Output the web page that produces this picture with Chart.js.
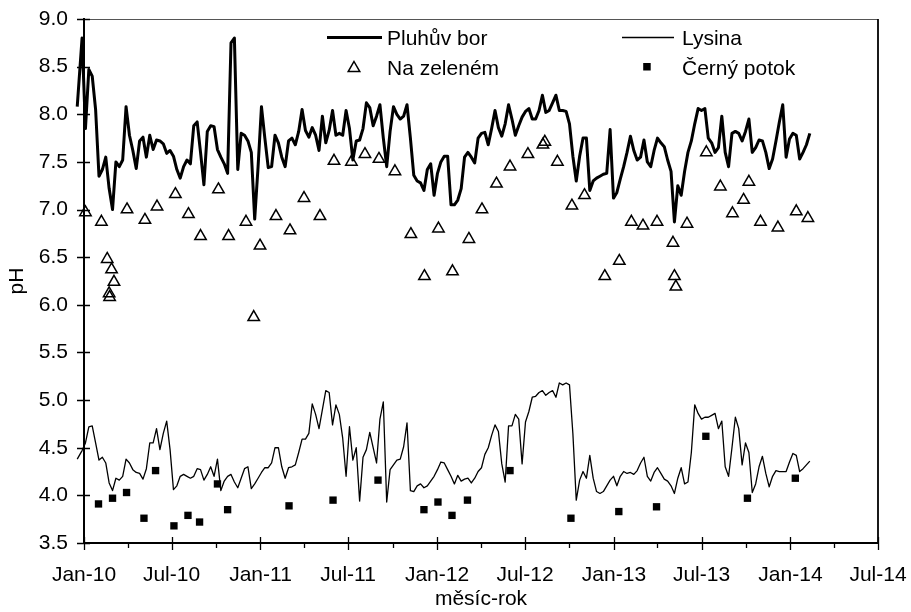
<!DOCTYPE html>
<html>
<head>
<meta charset="utf-8">
<title>pH</title>
<script src="https://cdn.jsdelivr.net/npm/chart.js@4.4.1/dist/chart.umd.min.js"></script>
<style>
  body { margin: 0; background: #fff; }
  #wrap { width: 911px; height: 612px; position: relative; }
</style>
</head>
<body>
<div id="wrap"><canvas id="ph-chart"></canvas></div>
<script>
// weekly sampling dates of the two continuous series
const weekDates = [
  '2009-12-18','2009-12-28',
  '2010-01-04','2010-01-11','2010-01-18','2010-01-25','2010-02-01','2010-02-08','2010-02-15','2010-02-22','2010-03-01','2010-03-08',
  '2010-03-15','2010-03-22','2010-03-29','2010-04-05','2010-04-12','2010-04-19','2010-04-26','2010-05-03','2010-05-10','2010-05-17',
  '2010-05-24','2010-05-31','2010-06-07','2010-06-14','2010-06-21','2010-06-28','2010-07-05','2010-07-12','2010-07-19','2010-07-26',
  '2010-08-02','2010-08-09','2010-08-16','2010-08-23','2010-08-30','2010-09-06','2010-09-13','2010-09-20','2010-09-27','2010-10-04',
  '2010-10-11','2010-10-18','2010-10-25','2010-11-01','2010-11-08','2010-11-15','2010-11-22','2010-11-29','2010-12-06','2010-12-13',
  '2010-12-20','2010-12-27',
  '2011-01-03','2011-01-10','2011-01-17','2011-01-24','2011-01-31','2011-02-07','2011-02-14','2011-02-21',
  '2011-02-28','2011-03-07','2011-03-14','2011-03-21','2011-03-28','2011-04-04','2011-04-11','2011-04-18','2011-04-25','2011-05-02',
  '2011-05-09','2011-05-16','2011-05-23','2011-05-30','2011-06-06','2011-06-13','2011-06-20','2011-06-27','2011-07-04','2011-07-11',
  '2011-07-18','2011-07-25','2011-08-01','2011-08-08','2011-08-15','2011-08-22','2011-08-29','2011-09-05','2011-09-12','2011-09-19',
  '2011-09-26','2011-10-03','2011-10-10','2011-10-17','2011-10-24','2011-10-31','2011-11-07','2011-11-14','2011-11-21','2011-11-28',
  '2011-12-05','2011-12-12','2011-12-19','2011-12-26',
  '2012-01-02','2012-01-09','2012-01-16','2012-01-23','2012-01-30','2012-02-06',
  '2012-02-13','2012-02-20','2012-02-27','2012-03-05','2012-03-12','2012-03-19','2012-03-26','2012-04-02','2012-04-09','2012-04-16',
  '2012-04-23','2012-04-30','2012-05-07','2012-05-14','2012-05-21','2012-05-28','2012-06-04','2012-06-11','2012-06-18','2012-06-25',
  '2012-07-02','2012-07-09','2012-07-16','2012-07-23','2012-07-30','2012-08-06','2012-08-13','2012-08-20','2012-08-27','2012-09-03',
  '2012-09-10','2012-09-17','2012-09-24','2012-10-01','2012-10-08','2012-10-15','2012-10-22','2012-10-29','2012-11-05','2012-11-12',
  '2012-11-19','2012-11-26','2012-12-03','2012-12-10','2012-12-17','2012-12-24','2012-12-31',
  '2013-01-07','2013-01-14','2013-01-21',
  '2013-01-28','2013-02-04','2013-02-11','2013-02-18','2013-02-25','2013-03-04','2013-03-11','2013-03-18','2013-03-25','2013-04-01',
  '2013-04-08','2013-04-15','2013-04-22','2013-04-29','2013-05-06','2013-05-13','2013-05-20','2013-05-27','2013-06-03','2013-06-10',
  '2013-06-17','2013-06-24','2013-07-01','2013-07-08','2013-07-15','2013-07-22','2013-07-29','2013-08-05','2013-08-12','2013-08-19',
  '2013-08-26','2013-09-02','2013-09-09','2013-09-16','2013-09-23','2013-09-30','2013-10-07','2013-10-14','2013-10-21','2013-10-28',
  '2013-11-04','2013-11-11','2013-11-18','2013-11-25','2013-12-02','2013-12-09','2013-12-16','2013-12-23','2013-12-30',
  '2014-01-06','2014-01-13','2014-01-20','2014-01-27','2014-02-03','2014-02-10'
];

const pluhuvBor = [
  8.08, 8.80,
  // 2010
  7.85, 8.47, 8.40, 8.05, 7.35, 7.42, 7.55, 7.22, 7.00, 7.50,
  7.45, 7.52, 8.08, 7.78, 7.62, 7.43, 7.72, 7.76, 7.55, 7.78,
  7.63, 7.73, 7.72, 7.69, 7.59, 7.62, 7.56, 7.42, 7.33, 7.45,
  7.52, 7.48, 7.88, 7.92, 7.60, 7.26, 7.82, 7.88, 7.87, 7.63,
  7.55, 7.48, 7.38, 8.75, 8.80, 7.42, 7.80, 7.78, 7.72, 7.60,
  6.90, 7.45,
  // 2011
  8.08, 7.75, 7.44, 7.45, 7.78, 7.70, 7.55, 7.45,
  7.72, 7.75, 7.68, 7.82, 8.05, 7.83, 7.76, 7.86, 7.78, 7.62,
  7.98, 7.70, 7.83, 8.04, 7.78, 7.80, 7.78, 8.04, 7.85, 7.52,
  7.72, 7.73, 7.85, 8.12, 8.07, 7.88, 7.98, 8.10, 7.75, 7.45,
  7.82, 8.08, 8.00, 7.95, 7.98, 8.10, 7.75, 7.36, 7.30, 7.28,
  7.20, 7.42, 7.48, 7.15,
  // 2012
  7.38, 7.50, 7.56, 7.56, 7.05, 7.05,
  7.10, 7.22, 7.55, 7.60, 7.55, 7.49, 7.75, 7.80, 7.81, 7.68,
  7.85, 8.04, 7.86, 7.77, 7.90, 8.10, 7.95, 7.78, 7.88, 7.97,
  8.03, 8.06, 7.95, 7.95, 8.04, 8.20, 8.02, 8.04, 8.12, 8.20,
  8.04, 8.04, 8.03, 7.90, 7.56, 7.30, 7.56, 7.75, 7.75, 7.20,
  7.30, 7.33, 7.35, 7.37, 7.38, 7.84, 7.12,
  // 2013
  7.18, 7.32, 7.45,
  7.60, 7.77, 7.62, 7.52, 7.55, 7.73, 7.50, 7.45, 7.62, 7.75,
  7.70, 7.66, 7.52, 7.40, 6.87, 7.25, 7.15, 7.40, 7.60, 7.72,
  7.90, 8.06, 8.04, 8.06, 7.75, 7.70, 7.60, 7.65, 7.98, 7.60,
  7.45, 7.80, 7.82, 7.80, 7.72, 7.82, 7.95, 7.60, 7.65, 7.73,
  7.72, 7.60, 7.43, 7.53, 7.72, 7.92, 8.10, 7.55, 7.74,
  // 2014
  7.80, 7.78, 7.53, 7.60, 7.68, 7.80
];

const lysina = [
  4.38, 4.47,
  // 2010
  4.55, 4.72, 4.73, 4.55, 4.37, 4.40, 4.34, 4.13, 4.05, 4.18,
  4.16, 4.20, 4.38, 4.34, 4.27, 4.24, 4.23, 4.17, 4.28, 4.55,
  4.55, 4.70, 4.48, 4.65, 4.78, 4.48, 4.06, 4.10, 4.20, 4.22,
  4.20, 4.18, 4.20, 4.28, 4.27, 4.16, 4.22, 4.30, 4.20, 4.38,
  4.05, 4.15, 4.20, 4.22, 4.14, 4.08, 4.18, 4.28, 4.30, 4.07,
  4.12, 4.18,
  // 2011
  4.24, 4.29, 4.29, 4.34, 4.50, 4.50, 4.30, 4.18,
  4.29, 4.30, 4.32, 4.45, 4.59, 4.59, 4.65, 4.96, 4.85, 4.70,
  4.90, 5.10, 5.08, 4.74, 4.95, 4.85, 4.60, 4.20, 4.72, 4.37,
  4.50, 3.94, 4.40, 4.48, 4.66, 4.50, 4.34, 4.80, 4.98, 3.93,
  4.27, 4.32, 4.37, 4.38, 4.51, 4.76, 4.05, 4.04, 4.10, 4.12,
  4.08, 4.10, 4.15, 4.20,
  // 2012
  4.27, 4.35, 4.34, 4.27, 4.20, 4.12,
  4.21, 4.15, 4.17, 4.18, 4.13, 4.18, 4.25, 4.29, 4.43, 4.50,
  4.63, 4.74, 4.67, 4.33, 4.14, 4.73, 4.73, 4.85, 4.80, 4.33,
  4.77, 4.88, 5.03, 5.04, 5.08, 5.10, 5.05, 5.08, 5.10, 5.03,
  5.18, 5.16, 5.18, 5.16, 4.65, 3.95, 4.16, 4.25, 4.18, 4.42,
  4.18, 4.04, 4.02, 4.04, 4.10, 4.16, 4.20,
  // 2013
  4.10, 4.20, 4.25,
  4.23, 4.24, 4.22, 4.26, 4.34, 4.40, 4.20, 4.15, 4.24, 4.29,
  4.23, 4.17, 4.15, 4.10, 4.02, 4.18, 4.29, 4.12, 4.14, 4.45,
  4.95, 4.86, 4.80, 4.82, 4.82, 4.84, 4.86, 4.70, 4.78, 4.30,
  4.20, 4.50, 4.82, 4.70, 4.32, 4.55, 4.45, 4.03, 4.12, 4.30,
  4.41, 4.23, 4.09, 4.20, 4.26, 4.25, 4.25, 4.25, 4.35,
  // 2014
  4.44, 4.42, 4.25, 4.28, 4.32, 4.36
];

// grab samples
const naZelenemDates = [
  '2010-01-04','2010-02-06','2010-02-18','2010-02-22','2010-02-23','2010-02-27','2010-03-04','2010-03-31','2010-05-07','2010-06-01',
  '2010-07-09','2010-08-05','2010-08-30','2010-10-06','2010-10-27','2010-12-02','2010-12-18','2010-12-31','2011-02-02','2011-03-03',
  '2011-04-01','2011-05-04','2011-06-02','2011-07-08','2011-08-05','2011-09-03','2011-10-06','2011-11-08','2011-12-06','2012-01-04',
  '2012-02-02','2012-03-07','2012-04-03','2012-05-03','2012-05-31','2012-07-07','2012-08-07','2012-08-11','2012-09-06','2012-10-06',
  '2012-11-01','2012-12-13','2013-01-12','2013-02-06','2013-03-02','2013-03-31','2013-05-03','2013-05-06','2013-05-09','2013-06-01',
  '2013-07-11','2013-08-09','2013-09-03','2013-09-26','2013-10-07','2013-10-31','2013-12-06','2014-01-13','2014-02-06'
];
const naZelenem = [
  6.97, 6.87, 6.48, 6.12, 6.08, 6.37, 6.24, 7.00, 6.89, 7.03,
  7.16, 6.95, 6.72, 7.21, 6.72, 6.87, 5.87, 6.62, 6.93, 6.78,
  7.12, 6.93, 7.51, 7.50, 7.58, 7.53, 7.40, 6.74, 6.30, 6.80,
  6.35, 6.69, 7.00, 7.27, 7.45, 7.58, 7.68, 7.71, 7.50, 7.04,
  7.15, 6.30, 6.46, 6.87, 6.83, 6.87, 6.65, 6.30, 6.19, 6.85,
  7.60, 7.24, 6.96, 7.10, 7.29, 6.87, 6.81, 6.98, 6.91
];

const cernyPotokDates = [
  '2010-01-31','2010-03-01','2010-03-30','2010-05-05','2010-05-29','2010-07-06','2010-08-04','2010-08-28','2010-10-04','2010-10-25',
  '2011-03-01','2011-05-31','2011-09-01','2011-12-05','2012-01-03','2012-02-01','2012-03-04','2012-05-31','2012-10-04','2013-01-11',
  '2013-03-30','2013-07-10','2013-10-04','2014-01-11'
];
const cernyPotok = [
  3.91, 3.97, 4.03, 3.76, 4.26, 3.68, 3.79, 3.72, 4.12, 3.85,
  3.89, 3.95, 4.16, 3.85, 3.93, 3.79, 3.95, 4.26, 3.76, 3.83,
  3.88, 4.62, 3.97, 4.18
];

// x axis: ticks every quarter, labels every half year
const tickDates = [
  '2010-01-01','2010-04-01','2010-07-01','2010-10-01','2011-01-01','2011-04-01','2011-07-01','2011-10-01',
  '2012-01-01','2012-04-01','2012-07-01','2012-10-01','2013-01-01','2013-04-01','2013-07-01','2013-10-01',
  '2014-01-01','2014-04-01','2014-07-01'
];
const tickLabels = [
  'Jan-10','','Jul-10','','Jan-11','','Jul-11','',
  'Jan-12','','Jul-12','','Jan-13','','Jul-13','',
  'Jan-14','','Jul-14'
];

const FONT = '"Liberation Sans", Arial, sans-serif';
const origin = Date.UTC(2010, 0, 1);

function dayOf(s) {
    const p = s.split('-').map(Number);
    return (Date.UTC(p[0], p[1] - 1, p[2]) - origin) / 86400000;
}

function points(dates, values) {
    return dates.map((d, i) => ({x: dayOf(d), y: values[i]}));
}

// frame, crossing tick marks and the two-column legend
const extras = {
    id: 'extras',
    afterDraw(chart) {
        const ctx = chart.ctx;
        const a = chart.chartArea;
        const xs = chart.scales.x;
        const ys = chart.scales.y;
        ctx.save();

        ctx.strokeStyle = '#555';
        ctx.lineWidth = 1;
        ctx.beginPath();
        ctx.moveTo(a.left, a.top + 0.5);
        ctx.lineTo(a.right, a.top + 0.5);
        ctx.stroke();
        ctx.strokeStyle = '#000';
        ctx.lineWidth = 1.8;
        ctx.beginPath();
        ctx.moveTo(a.right, a.top);
        ctx.lineTo(a.right, a.bottom);
        ctx.stroke();

        ctx.lineWidth = 1.3;
        ctx.beginPath();
        ys.ticks.forEach(t => {
            const py = Math.round(ys.getPixelForValue(t.value)) + 0.5;
            ctx.moveTo(a.left - 7, py);
            ctx.lineTo(a.left + 6, py);
        });
        xs.ticks.forEach((t, i) => {
            const px = Math.round(xs.getPixelForValue(t.value)) + 0.5;
            const major = tickLabels[i] !== '';
            ctx.moveTo(px, major ? a.bottom - 6 : a.bottom);
            ctx.lineTo(px, a.bottom + (major ? 7 : 5));
        });
        ctx.stroke();

        const ds = chart.data.datasets;
        ctx.font = '21px ' + FONT;
        ctx.fillStyle = '#000';
        ctx.textBaseline = 'alphabetic';

        ctx.lineWidth = 3;
        ctx.beginPath();
        ctx.moveTo(327, 37.5);
        ctx.lineTo(382, 37.5);
        ctx.stroke();
        ctx.fillText(ds[0].label, 387, 45);

        ctx.lineWidth = 1.3;
        ctx.beginPath();
        ctx.moveTo(622, 37.5);
        ctx.lineTo(674, 37.5);
        ctx.stroke();
        ctx.fillText(ds[1].label, 682, 45);

        ctx.lineWidth = 1.5;
        ctx.beginPath();
        ctx.moveTo(354, 61.5);
        ctx.lineTo(359.8, 71.6);
        ctx.lineTo(348.2, 71.6);
        ctx.closePath();
        ctx.stroke();
        ctx.fillText(ds[2].label, 387, 75);

        ctx.fillRect(643.2, 63, 7.5, 7.5);
        ctx.fillText(ds[3].label, 682, 75);

        ctx.restore();
    }
};

new Chart(document.getElementById('ph-chart'), {
    type: 'line',
    data: {
        datasets: [{
            label: 'Pluhův bor',
            data: points(weekDates, pluhuvBor),
            borderColor: '#000',
            borderWidth: 3,
            borderJoinStyle: 'round',
            pointRadius: 0,
            tension: 0,
            clip: false
        }, {
            label: 'Lysina',
            data: points(weekDates, lysina),
            borderColor: '#000',
            borderWidth: 1.3,
            borderJoinStyle: 'round',
            pointRadius: 0,
            tension: 0,
            clip: false
        }, {
            label: 'Na zeleném',
            data: points(naZelenemDates, naZelenem),
            showLine: false,
            pointStyle: 'triangle',
            pointRadius: 6.6,
            pointBorderWidth: 1.5,
            pointBorderColor: '#000',
            pointBackgroundColor: 'rgba(0,0,0,0)',
            clip: false
        }, {
            label: 'Černý potok',
            data: points(cernyPotokDates, cernyPotok),
            showLine: false,
            pointStyle: 'rect',
            pointRadius: 5.2,
            pointBorderWidth: 0,
            pointBackgroundColor: '#000',
            clip: false
        }]
    },
    options: {
        responsive: true,
        maintainAspectRatio: false,
        animation: false,
        layout: { padding: { top: 19, right: 33, bottom: 0, left: 0 } },
        plugins: { legend: { display: false }, tooltip: { enabled: false } },
        scales: {
            x: {
                type: 'linear',
                bounds: 'data',
                afterDataLimits(s) {
                    s.min = dayOf(tickDates[0]);
                    s.max = dayOf(tickDates[tickDates.length - 1]);
                },
                afterBuildTicks(s) {
                    s.ticks = tickDates.map(d => ({value: dayOf(d)}));
                },
                afterFit(s) {
                    s.height = 69;
                    s.paddingLeft = 0;
                    s.paddingRight = 0;
                },
                grid: { display: false, drawTicks: true, tickLength: 7 },
                border: { display: true, color: '#000', width: 2 },
                ticks: {
                    autoSkip: false,
                    maxRotation: 0,
                    padding: 13,
                    color: '#000',
                    font: { family: FONT, size: 21 },
                    callback: (v, i) => tickLabels[i]
                },
                title: {
                    display: true,
                    text: 'měsíc-rok',
                    color: '#000',
                    font: { family: FONT, size: 21 },
                    padding: { top: 0, bottom: 0 }
                }
            },
            y: {
                min: 3.5,
                max: 9,
                afterFit(s) {
                    s.width = 84;
                    s.paddingTop = 0;
                    s.paddingBottom = 0;
                },
                grid: { display: false, drawTicks: true, tickLength: 7 },
                border: { display: true, color: '#000', width: 2 },
                ticks: {
                    stepSize: 0.5,
                    padding: 9,
                    color: '#000',
                    font: { family: FONT, size: 21 },
                    callback: v => v.toFixed(1)
                },
                title: {
                    display: true,
                    text: 'pH',
                    color: '#000',
                    font: { family: FONT, size: 21 },
                    padding: { top: 5, bottom: 0 }
                }
            }
        }
    },
    plugins: [extras]
});
</script>
</body>
</html>
